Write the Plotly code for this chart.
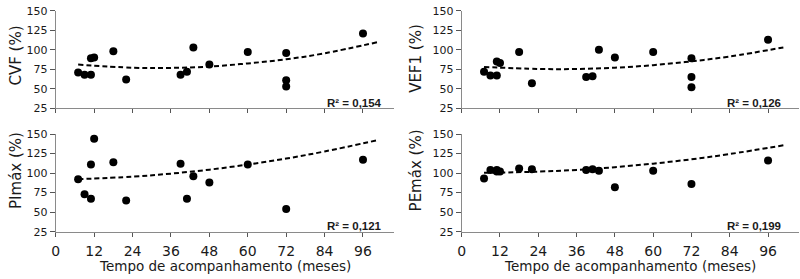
import plotly.graph_objects as go

W, H = 800, 279

# ---- data ----
cvf_x = [7, 9, 11, 11, 12, 18, 22, 39, 41, 43, 48, 60, 72, 72, 72, 96]
cvf_y = [71, 68, 68, 89, 90, 98, 62, 68, 72, 103, 81, 97, 96, 61, 53, 121]

vef_x = [7, 9, 11, 11, 12, 18, 22, 39, 41, 43, 48, 60, 72, 72, 72, 96]
vef_y = [72, 67, 67, 85, 83, 97, 57, 65, 66, 100, 90, 97, 89, 65, 52, 113]

pim_x = [7, 9, 11, 11, 12, 18, 22, 39, 41, 43, 48, 60, 72, 96]
pim_y = [92, 73, 67, 111, 144, 114, 65, 112, 67, 96, 88, 111, 54, 117]

pem_x = [7, 9, 11, 11, 12, 18, 22, 39, 41, 43, 48, 60, 72, 96]
pem_y = [93, 104, 104, 102, 102, 106, 105, 104, 105, 103, 82, 103, 86, 116]

# trend line (polynomial trendline) values
trend_x = [7, 24, 36, 48, 60, 72, 84, 100.8]
cvf_trend = [81, 77, 76.8, 78.5, 82.5, 87.8, 95.5, 110]
vef_trend = [78, 75.4, 75.4, 77, 80.3, 85.2, 91.4, 103]
pim_trend = [92.2, 95.4, 99.3, 104.4, 110.9, 118.6, 127.7, 142.4]
pem_trend = [100.3, 101.9, 104.1, 107.6, 112.1, 117.7, 124.4, 135.6]

panels = [
    ("CVF (%)", cvf_x, cvf_y, cvf_trend, "R² = 0,154"),
    ("VEF1 (%)", vef_x, vef_y, vef_trend, "R² = 0,126"),
    ("PImáx (%)", pim_x, pim_y, pim_trend, "R² = 0,121"),
    ("PEmáx (%)", pem_x, pem_y, pem_trend, "R² = 0,199"),
]
x_ticks = [0, 12, 24, 36, 48, 60, 72, 84, 96]
y_ticks = [25, 50, 75, 100, 125, 150]
x_title = "Tempo de acompanhamento (meses)"

# ---- layout geometry (pixels) ----
xdom = [(52, 392), (460, 799)]
ydom = [(5, 107.3), (134.3, 236.7)]
ytitle_x = [12, 414.5]
ytitle_y = [52, 55, 172, 172]
r2_xend = [102.6, 100.7]

fig = go.Figure()
annotations = []
AXCOL = "#8a8a8a"
TXT = "#1a1a1a"

for i, (ytitle, xs, ys, tr, r2) in enumerate(panels):
    row, col = divmod(i, 2)
    n = i + 1
    xa = "x" if n == 1 else f"x{n}"
    ya = "y" if n == 1 else f"y{n}"
    fig.add_trace(go.Scatter(x=xs, y=ys, mode="markers", xaxis=xa, yaxis=ya,
                             marker=dict(color="black", size=8), showlegend=False))
    fig.add_trace(go.Scatter(x=trend_x, y=tr, mode="lines", xaxis=xa, yaxis=ya,
                             line=dict(color="black", width=2, dash="5px,3px",
                                       shape="spline", smoothing=1.0),
                             showlegend=False))
    x0, x1 = xdom[col]
    y0, y1 = ydom[row]
    xkey = "xaxis" if n == 1 else f"xaxis{n}"
    ykey = "yaxis" if n == 1 else f"yaxis{n}"
    fig.update_layout(**{
        xkey: dict(domain=[x0 / W, x1 / W], anchor=ya, range=[0, 105.7],
                   tickvals=x_ticks, showticklabels=(row == 1), ticks="outside",
                   ticklen=4, tickcolor="#555", showline=True, linecolor=AXCOL, linewidth=1,
                   showgrid=False, zeroline=False, ticklabelstandoff=3,
                   tickfont=dict(family="DejaVu Sans", size=14, color=TXT)),
        ykey: dict(domain=[1 - y1 / H, 1 - y0 / H], anchor=xa, range=[25, 150],
                   tickvals=y_ticks, ticks="outside", ticklen=5, tickcolor="#555",
                   showline=True, linecolor=AXCOL, linewidth=1, showgrid=False, zeroline=False,
                   tickfont=dict(family="DejaVu Sans", size=11, color=TXT)),
    })
    annotations.append(dict(text=ytitle, xref="paper", yref="paper", x=ytitle_x[col] / W,
                            y=1 - ytitle_y[i] / H, textangle=-90, showarrow=False,
                            xanchor="center", yanchor="middle",
                            font=dict(family="DejaVu Sans", size=15, color=TXT)))
    annotations.append(dict(text="<b>" + r2 + "</b>", xref=xa, yref=ya, x=r2_xend[col], y=32,
                            xanchor="right", yanchor="middle", showarrow=False,
                            font=dict(family="Liberation Sans", size=11.5, color=TXT)))
    if row == 1:
        annotations.append(dict(text=x_title, xref="paper", yref="paper",
                                x=(x0 + x1) / 2 / W, y=1 - 272.5 / H, xanchor="center",
                                yanchor="middle", showarrow=False,
                                font=dict(family="DejaVu Sans", size=13.5, color=TXT)))

fig.update_layout(width=W, height=H, margin=dict(l=0, r=0, t=0, b=0),
                  paper_bgcolor="white", plot_bgcolor="white", annotations=annotations)
fig.write_html("out.html")
